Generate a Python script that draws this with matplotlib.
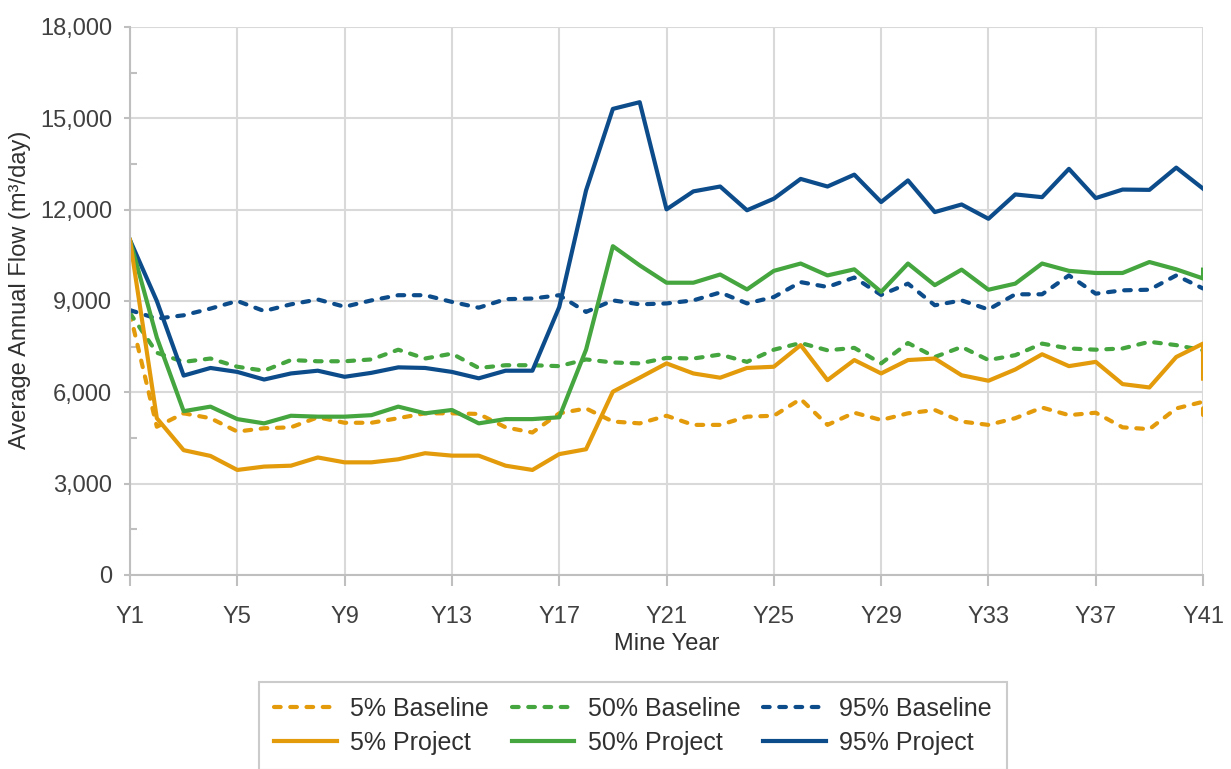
import matplotlib
matplotlib.use("Agg")
import matplotlib.pyplot as plt
from matplotlib.ticker import MultipleLocator, FuncFormatter

plt.rcParams["font.family"] = ["Liberation Sans", "DejaVu Sans"]

# mine years; the last year carries a second (end-of-period) value
years = list(range(1, 42)) + [41]

base_5 = [8600, 4870, 5310, 5150, 4710, 4820, 4850, 5180, 5000, 5000,
          5150, 5310, 5310, 5290, 4850, 4680, 5310, 5470, 5040, 4980,
          5230, 4930, 4930, 5200, 5230, 5780, 4930, 5330, 5090, 5310,
          5420, 5040, 4930, 5150, 5500, 5250, 5330, 4850, 4790, 5470,
          5690, 4960]
base_50 = [8600, 7300, 7000, 7110, 6840, 6710, 7060, 7020, 7020, 7080,
           7400, 7110, 7270, 6800, 6890, 6890, 6860, 7080, 6980, 6950,
           7130, 7110, 7240, 7000, 7400, 7620, 7380, 7460, 6950, 7620,
           7160, 7490, 7060, 7220, 7600, 7440, 7400, 7440, 7660, 7550,
           7380, 7300]
base_95 = [8700, 8420, 8530, 8750, 9000, 8670, 8890, 9050, 8810, 9020,
           9190, 9190, 8970, 8780, 9060, 9080, 9190, 8640, 9020, 8890,
           8920, 9020, 9280, 8920, 9130, 9620, 9460, 9770, 9200, 9570,
           8860, 9020, 8720, 9220, 9220, 9840, 9240, 9350, 9370, 9840,
           9410, 9410]
proj_5 = [11000, 5150, 4100, 3910, 3450, 3560, 3590, 3860, 3700, 3700,
          3800, 4000, 3920, 3920, 3590, 3450, 3970, 4130, 6020, 6480,
          6950, 6620, 6480, 6800, 6840, 7550, 6400, 7060, 6620, 7060,
          7110, 6560, 6380, 6750, 7250, 6860, 7000, 6270, 6160, 7160,
          7600, 6450]
proj_50 = [11000, 7800, 5380, 5530, 5120, 4980, 5230, 5200, 5200, 5250,
           5530, 5310, 5420, 4980, 5120, 5120, 5180, 7400, 10800, 10170,
           9600, 9600, 9870, 9380, 9990, 10230, 9840, 10040, 9300, 10230,
           9520, 10030, 9370, 9570, 10230, 9990, 9920, 9920, 10280, 10040,
           9740, 10030]
proj_95 = [11000, 9000, 6550, 6800, 6670, 6420, 6620, 6710, 6510, 6640,
           6820, 6800, 6670, 6460, 6710, 6710, 8800, 12630, 15310, 15530,
           12010, 12600, 12760, 11980, 12360, 13010, 12760, 13150, 12250, 12960,
           11920, 12170, 11700, 12500, 12410, 13340, 12380, 12660, 12650, 13380,
           12690, 12690]

tick_years = list(range(1, 42, 4))
tick_labels = [f"Y{y}" for y in tick_years]

orange = "#E39B0B"
green = "#45A53F"
blue = "#0D4C8B"
axis_grey = "#BFBFBF"
text_col = "#303030"

fig = plt.figure(figsize=(12.31, 7.69), dpi=100)
ax = fig.add_axes([0.1056, 0.2523, 0.8717, 0.7126])

lw = 3.0
dash = dict(linestyle=(0, (1.6, 2.3)), dash_capstyle="round", lw=lw)
lines = {}
lines["b5"], = ax.plot(years, base_5, color=orange, label="5% Baseline", **dash)
lines["b50"], = ax.plot(years, base_50, color=green, label="50% Baseline", **dash)
lines["b95"], = ax.plot(years, base_95, color=blue, label="95% Baseline", **dash)
lines["p95"], = ax.plot(years, proj_95, color=blue, lw=lw, label="95% Project")
lines["p50"], = ax.plot(years, proj_50, color=green, lw=lw, label="50% Project")
lines["p5"], = ax.plot(years, proj_5, color=orange, lw=lw, label="5% Project")

ax.set_xlim(1, 41)
ax.set_ylim(0, 18000)
ax.set_xticks(tick_years)
ax.set_xticklabels(tick_labels)
ax.yaxis.set_major_locator(MultipleLocator(3000))
ax.yaxis.set_minor_locator(MultipleLocator(1500))
ax.yaxis.set_major_formatter(FuncFormatter(lambda v, p: f"{v:,.0f}"))
ax.tick_params(axis="both", labelsize=17, labelcolor="#404040", color=axis_grey, width=1.5)
ax.tick_params(axis="x", length=8, pad=14)
ax.tick_params(axis="y", length=4, pad=9)
ax.tick_params(axis="y", which="minor", direction="in", length=5, color=axis_grey, width=1.5)
ax.grid(True, color="#D9D9D9", lw=1.5)
ax.set_axisbelow(True)
for s in ["top", "right"]:
    ax.spines[s].set_visible(False)
for s in ["left", "bottom"]:
    ax.spines[s].set_color(axis_grey)
    ax.spines[s].set_linewidth(1.5)

ax.set_xlabel("Mine Year", fontsize=17, color=text_col, labelpad=4)
ax.set_ylabel("Average Annual Flow (m\u00b3/day)", fontsize=17, color=text_col)
ax.yaxis.set_label_coords(-0.092, 0.52)

order = ["b5", "p5", "b50", "p50", "b95", "p95"]
leg = fig.legend([lines[k] for k in order], [lines[k].get_label() for k in order],
                 ncol=3, loc="upper left", bbox_to_anchor=(0.2105, 0.1131),
                 fontsize=18, frameon=True, fancybox=False, handlelength=2.5,
                 handletextpad=0.55, columnspacing=0.9, labelspacing=0.4,
                 borderpad=0.6, borderaxespad=0)
leg.get_frame().set_edgecolor(axis_grey)
leg.get_frame().set_linewidth(1.5)
for t in leg.get_texts():
    t.set_color(text_col)

fig.savefig("out.png", dpi=100)
